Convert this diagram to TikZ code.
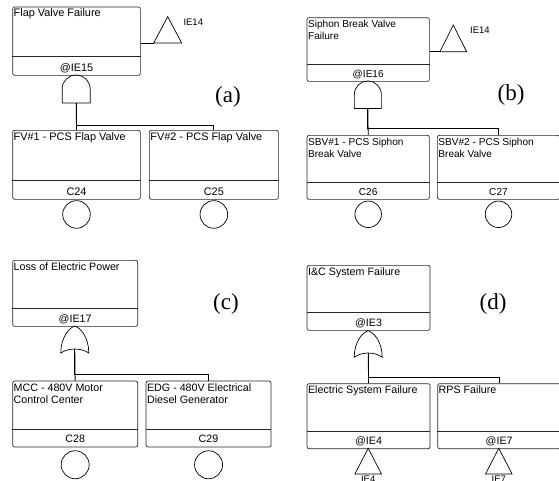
\documentclass[tikz,border=0pt]{standalone}
\usepackage{fontspec}
\setmainfont{Liberation Serif}
\newfontfamily\arialf{Liberation Sans}
\tikzset{
  evbox/.style={draw=black!85, line width=0.7pt, rounded corners=2pt, inner sep=0pt, anchor=north west},
  divline/.style={draw=black!85, line width=0.7pt},
  gate/.style={draw=black, line width=0.7pt},
  conn/.style={draw=black, line width=0.8pt},
  bt/.style={inner sep=0pt, anchor=base west},
  lbl/.style={inner sep=0pt, anchor=base},
  basic/.style={circle, draw=black, line width=0.7pt, inner sep=0pt, anchor=north},
  paneltag/.style={font=\fontsize{23}{26}\selectfont, inner sep=0pt},
  iet/.style={font=\arialf\fontsize{9.5}{11}\selectfont, inner sep=0pt}
}
% box: name, x, y, w, h, section height
\newcommand\ftbox[6]{%
  \node[evbox, minimum width=#4pt, minimum height=#5pt] (#1) at (#2,#3) {};
  \draw[divline] ([yshift=#6pt]#1.south west) -- ([yshift=#6pt]#1.south east);}
% AND gate: name, cx, ytop, r, ybottom
\newcommand\andgate[5]{%
  \draw[gate] ({#2-#4},#5) -- ({#2-#4},{#3+#4}) .. controls ({#2-#4},{#3+0.4477*#4}) and ({#2-0.5523*#4},#3) .. (#2,#3)
    .. controls ({#2+0.5523*#4},#3) and ({#2+#4},{#3+0.4477*#4}) .. ({#2+#4},{#3+#4}) -- ({#2+#4},#5) -- cycle;
  \coordinate (#1) at (#2,#5);}
% OR gate: name, cx, ytop, half width, ybottom, ypeak
\newcommand\orgate[6]{%
  \draw[gate] (#2,#3) .. controls ({#2+0.45*#4},{#3+2}) and ({#2+#4},{#3+0.45*(#5-#3)}) .. ({#2+#4},#5)
    .. controls ({#2+0.45*#4},{#5-1.333*(#5-#6)}) and ({#2-0.45*#4},{#5-1.333*(#5-#6)}) .. ({#2-#4},#5)
    .. controls ({#2-#4},{#3+0.45*(#5-#3)}) and ({#2-0.45*#4},{#3+2}) .. (#2,#3) -- cycle;
  \coordinate (#1) at (#2,#6);}
% triangle: name, apex x, apex y, half width, base y
\newcommand\tri[5]{%
  \draw[gate] (#2,#3) -- ({#2+#4},#5) -- ({#2-#4},#5) -- cycle;
  \coordinate (#1L) at ({#2-#4},#5);
  \coordinate (#1B) at (#2,#5);}
\begin{document}
\begin{tikzpicture}[x=1pt,y=-1pt]
\useasboundingbox (0,0) rectangle (559,480);

% ---------------- (a) ----------------
\begin{scope}[every node/.append style={font=\arialf\fontsize{10.9}{12}\selectfont}]
\ftbox{A}{12.3}{6.7}{127.7}{68.3}{19}
\node[bt] at ([xshift=1.2pt,yshift=-10pt]A.north west) {Flap Valve Failure};
\node[lbl] at ([yshift=4.3pt]A.south) {@IE15};
\tri{tA}{167.7}{16.7}{14}{43}
\node[iet, anchor=base west] (ieA) at (183.3,25.5) {IE14};
\draw[conn] (A.east |- tAL) -- (tAL);
\andgate{gA}{76.15}{75}{14}{103}
\ftbox{A1}{12.3}{130}{127.7}{69}{19}
\ftbox{A2}{149}{130}{129}{69}{19}
\node[bt] at ([xshift=1.2pt,yshift=-10pt]A1.north west) {FV\#1 - PCS Flap Valve};
\node[bt] at ([xshift=1.2pt,yshift=-10pt]A2.north west) {FV\#2 - PCS Flap Valve};
\node[lbl] at ([yshift=4.3pt]A1.south) {C24};
\node[lbl] at ([yshift=4.3pt]A2.south) {C25};
\draw[conn] (gA) -- (A1.north);
\draw[conn] (gA) |- ([yshift=5pt]A2.north) -- (A2.north);
\node[basic, minimum size=27.6pt] (cA1) at ([yshift=-0.6pt]A1.south) {};
\node[basic, minimum size=27.6pt] (cA2) at ([yshift=-0.6pt]A2.south) {};
\node[paneltag] (labA) at (228,97) {(a)};
\end{scope}

% ---------------- (b) ----------------
\begin{scope}[every node/.append style={font=\arialf\fontsize{10.1}{11.5}\selectfont}]
\ftbox{B}{306.7}{17.3}{122.3}{63.7}{17.7}
\node[bt] at ([xshift=1.2pt,yshift=-10.5pt]B.north west) {Siphon Break Valve};
\node[bt] at ([xshift=1.2pt,yshift=-22pt]B.north west) {Failure};
\node[lbl] at ([yshift=4.2pt]B.south) {@IE16};
\tri{tB}{453.3}{25}{13.3}{51.7}
\node[iet, anchor=base west] (ieB) at (470,33.3) {IE14};
\draw[conn] (B.east |- tBL) -- (tBL);
\andgate{gB}{367.85}{81}{13.5}{108.5}
\ftbox{B1}{306.7}{135}{122.3}{64}{17.3}
\ftbox{B2}{437}{135}{122.3}{64}{17.3}
\node[bt] at ([xshift=1.2pt,yshift=-10.5pt]B1.north west) {SBV\#1 - PCS Siphon};
\node[bt] at ([xshift=1.2pt,yshift=-22pt]B1.north west) {Break Valve};
\node[bt] at ([xshift=1.2pt,yshift=-10.5pt]B2.north west) {SBV\#2 - PCS Siphon};
\node[bt] at ([xshift=1.2pt,yshift=-22pt]B2.north west) {Break Valve};
\node[lbl] at ([yshift=4.2pt]B1.south) {C26};
\node[lbl] at ([yshift=4.2pt]B2.south) {C27};
\draw[conn] (gB) -- (B1.north);
\draw[conn] (gB) |- ([yshift=7pt]B2.north) -- (B2.north);
\node[basic, minimum size=26.5pt] (cB1) at ([yshift=-1pt]B1.south) {};
\node[basic, minimum size=26.5pt] (cB2) at ([yshift=-1pt]B2.south) {};
\node[paneltag] (labB) at (511,95) {(b)};
\end{scope}

% ---------------- (c) ----------------
\begin{scope}[every node/.append style={font=\arialf\fontsize{10.7}{12}\selectfont}]
\ftbox{C}{12.3}{260}{125}{66}{18.3}
\node[bt] at ([xshift=1.2pt,yshift=-10.5pt]C.north west) {Loss of Electric Power};
\node[lbl] at ([yshift=4.5pt]C.south) {@IE17};
\orgate{gC}{74.8}{326}{14}{353}{349}
\ftbox{C1}{12.3}{380.7}{125}{66}{18.4}
\ftbox{C2}{145.7}{380.7}{125}{66}{18.4}
\node[bt] at ([xshift=1.2pt,yshift=-10.5pt]C1.north west) {MCC - 480V Motor};
\node[bt] at ([xshift=1.2pt,yshift=-22.3pt]C1.north west) {Control Center};
\node[bt] at ([xshift=1.2pt,yshift=-10.5pt]C2.north west) {EDG - 480V Electrical};
\node[bt] at ([xshift=1.2pt,yshift=-22.3pt]C2.north west) {Diesel Generator};
\node[lbl] at ([yshift=4.5pt]C1.south) {C28};
\node[lbl] at ([yshift=4.5pt]C2.south) {C29};
\draw[conn] (gC) -- (C1.north);
\draw[conn] (gC) |- ([yshift=6.4pt]C2.north) -- (C2.north);
\node[basic, minimum size=28pt] (cC1) at ([yshift=-3pt]C1.south) {};
\node[basic, minimum size=28pt] (cC2) at ([yshift=-3pt]C2.south) {};
\node[paneltag] (labC) at (226,304) {(c)};
\end{scope}

% ---------------- (d) ----------------
\begin{scope}[every node/.append style={font=\arialf\fontsize{10.7}{12}\selectfont}]
\ftbox{D}{306.7}{265}{123}{65}{18.3}
\node[bt] at ([xshift=1.2pt,yshift=-10.5pt]D.north west) {I\&C System Failure};
\node[lbl] at ([yshift=4.5pt]D.south) {@IE3};
\orgate{gD}{368.2}{330.7}{14}{357.3}{353}
\ftbox{D1}{306.7}{383.3}{123}{65}{17.6}
\ftbox{D2}{437.3}{383.3}{123}{65}{17.6}
\node[bt] at ([xshift=1.2pt,yshift=-10.5pt]D1.north west) {Electric System Failure};
\node[bt] at ([xshift=1.2pt,yshift=-10.5pt]D2.north west) {RPS Failure};
\node[lbl] at ([yshift=4.3pt]D1.south) {@IE4};
\node[lbl] at ([yshift=4.3pt]D2.south) {@IE7};
\draw[conn] (gD) -- (D1.north);
\draw[conn] (gD) |- ([yshift=6pt]D2.north) -- (D2.north);
\tri{tD1}{368.2}{448.3}{13.3}{474}
\tri{tD2}{498.8}{448.3}{13.3}{474}
\node[iet, anchor=base] (ieD1) at ([yshift=-8.5pt]tD1B) {IE4};
\node[iet, anchor=base] (ieD2) at ([yshift=-8.5pt]tD2B) {IE7};
\node[paneltag] (labD) at (493,303.7) {(d)};
\end{scope}
\end{tikzpicture}
\end{document}
